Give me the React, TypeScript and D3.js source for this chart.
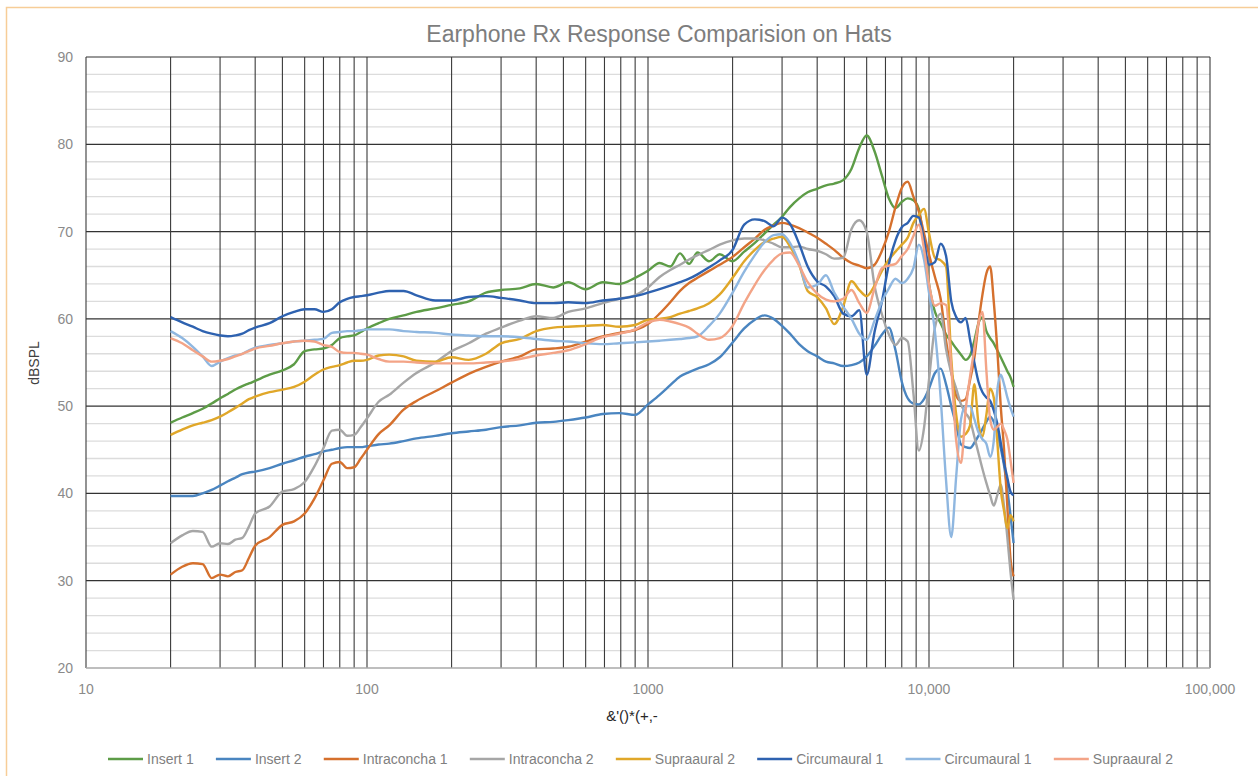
import { useRef, useEffect } from 'react';
import * as d3 from 'd3';

// frequency grid (Hz) shared by every series
const freqs = [
  20, 22, 24, 26, 28, 30, 32, 34, 36, 38,
  40, 45, 50, 55, 60, 65, 70, 75, 80, 85,
  90, 95, 100, 110, 120, 135, 150, 175, 200, 230,
  265, 300, 350, 400, 460, 520, 600, 690, 790, 900,
  1000, 1100, 1200, 1300, 1400, 1500, 1650, 1800, 2000, 2200,
  2400, 2600, 2800, 3000, 3200, 3450, 3700, 4000, 4300, 4600,
  4950, 5300, 5650, 6000, 6400, 6800, 7200, 7600, 8000, 8400,
  8800, 9200, 9600, 10000, 10500, 11000, 11500, 12000, 12500, 13000,
  13500, 14000, 14500, 15000, 15500, 16000, 16500, 17000, 17500, 18000,
  18500, 19000, 19500, 20000,
];

const insert1 = [
  48.1, 48.7, 49.2, 49.7, 50.3, 50.9, 51.4, 51.9, 52.3, 52.6,
  52.9, 53.6, 54.1, 54.8, 56.3, 56.5, 56.6, 57.0, 57.8, 58.0,
  58.1, 58.5, 58.9, 59.5, 60.0, 60.4, 60.8, 61.2, 61.6, 62.0,
  63.0, 63.3, 63.5, 64.0, 63.6, 64.2, 63.4, 64.2, 64.0, 64.7,
  65.5, 66.4, 66.0, 67.5, 66.3, 67.6, 66.6, 67.4, 66.6, 67.7,
  68.7, 69.8, 70.8, 71.7, 72.8, 73.8, 74.5, 74.9, 75.3, 75.5,
  75.9, 77.2, 79.6, 81.0, 79.2, 76.4, 73.8, 72.7, 73.4, 73.8,
  73.6, 72.6, 68.5, 64.0, 60.8, 59.5, 58.2, 57.4, 56.6, 55.9,
  55.3, 55.8, 57.5, 59.5, 60.2, 58.6, 57.8, 57.2, 56.4, 55.6,
  54.8, 54.0, 53.3, 52.2,
];

const insert2 = [
  39.7, 39.7, 39.7, 40.0, 40.4, 40.9, 41.4, 41.8, 42.2, 42.4,
  42.5, 42.9, 43.4, 43.8, 44.2, 44.5, 44.8, 45.0, 45.2, 45.3,
  45.3, 45.3, 45.4, 45.6, 45.7, 46.0, 46.3, 46.6, 46.9, 47.1,
  47.3, 47.6, 47.8, 48.1, 48.2, 48.4, 48.7, 49.1, 49.2, 49.0,
  50.2, 51.3, 52.4, 53.4, 53.9, 54.3, 54.8, 55.6, 57.3, 58.9,
  59.9, 60.4, 60.0, 59.2, 58.3, 57.1, 56.3, 55.7, 55.1, 54.9,
  54.6, 54.7, 55.0, 55.7, 56.9, 58.2, 59.0, 56.4, 52.8, 50.9,
  50.3, 50.2, 50.8, 52.0, 53.8, 54.3, 52.5, 50.0, 47.8, 45.6,
  45.3, 45.2, 45.8, 46.6, 47.4, 48.2, 48.8, 48.2, 47.0, 45.2,
  43.2, 40.5, 37.5, 34.3,
];

const intraconcha1 = [
  30.7, 31.6, 32.0, 31.9, 30.3, 30.7, 30.5, 31.0, 31.2, 32.6,
  34.0, 35.0, 36.4, 36.8, 37.7, 39.4, 41.5, 43.4, 43.6, 42.9,
  43.0, 44.0, 45.0, 46.8, 47.8, 49.6, 50.6, 51.7, 52.7, 53.7,
  54.5, 55.1, 55.7, 56.5, 56.6, 56.8, 57.4, 58.0, 58.4, 58.7,
  59.4, 60.6, 61.9, 63.2, 64.1, 64.7, 65.5, 66.2, 67.1, 68.2,
  69.2, 70.2, 70.7, 71.0, 70.8, 70.4, 69.9, 69.3, 68.6, 67.9,
  67.0, 66.4, 66.1, 65.8, 66.2, 67.8, 70.0, 72.8, 75.0, 75.7,
  74.0, 72.3, 69.8, 67.4, 64.8, 62.3, 57.5, 54.0, 51.2, 50.6,
  50.8, 53.0, 55.5, 59.5, 62.8, 65.2, 66.0, 62.0, 56.5, 50.0,
  45.0, 38.5, 32.5, 30.5,
];

const intraconcha2 = [
  34.3, 35.2, 35.7, 35.6, 33.9, 34.3, 34.2, 34.7, 34.9, 36.2,
  37.7, 38.5, 40.2, 40.5, 41.3, 43.1, 45.2, 47.2, 47.3, 46.6,
  46.7, 47.6, 48.6, 50.5, 51.3, 52.7, 53.8, 55.0, 56.3, 57.2,
  58.3, 59.0, 59.8, 60.3, 60.1, 60.8, 61.2, 61.8, 62.3, 62.7,
  63.6, 64.8, 65.6, 66.2, 66.8, 67.3, 67.9, 68.5, 69.0, 69.2,
  69.2, 69.0, 68.6, 68.2, 68.2, 68.3, 68.0, 67.8, 67.4, 66.9,
  67.0, 70.3, 71.3, 70.0, 63.8, 60.5, 58.2, 57.0, 57.8, 57.4,
  51.5, 44.9, 47.5, 53.0, 59.0, 60.6, 56.5, 53.8, 52.0, 50.2,
  49.2, 48.4, 46.5, 44.6, 42.8, 41.2, 39.8, 38.6, 39.8, 41.0,
  38.5, 35.0, 31.0, 27.8,
];

const supraaural2a = [
  46.7, 47.3, 47.8, 48.1, 48.4, 48.8, 49.3, 49.8, 50.3, 50.8,
  51.1, 51.6, 51.9, 52.2, 52.8, 53.6, 54.2, 54.5, 54.7, 55.0,
  55.2, 55.2, 55.3, 55.8, 55.9, 55.7, 55.2, 55.1, 55.6, 55.3,
  56.0, 57.2, 57.7, 58.6, 59.0, 59.1, 59.2, 59.3, 59.1, 59.3,
  59.9, 60.0, 60.2, 60.6, 60.9, 61.2, 61.8, 62.8, 64.7, 66.6,
  67.9, 68.8, 69.2, 69.4, 68.3, 66.2, 63.2, 62.5, 61.2, 59.4,
  61.4, 64.3, 63.3, 62.6, 63.8, 65.5, 66.8, 67.7, 68.5, 69.3,
  71.0, 71.9, 72.6, 69.8, 67.0, 66.7, 66.0, 55.5, 49.0, 46.5,
  46.8, 47.8, 52.5, 48.0, 46.5, 49.0, 52.0, 51.0, 46.0, 40.5,
  38.0, 36.0, 37.5, 36.8,
];

const circumaural1a = [
  60.2, 59.6, 59.1, 58.6, 58.3, 58.1, 58.0, 58.1, 58.3, 58.7,
  59.0, 59.5, 60.3, 60.8, 61.1, 61.1, 60.8, 61.1, 61.9, 62.3,
  62.5, 62.6, 62.7, 63.0, 63.2, 63.2, 62.7, 62.1, 62.1, 62.5,
  62.6, 62.4, 62.1, 61.8, 61.8, 61.9, 61.8, 62.1, 62.3, 62.6,
  63.0, 63.4, 63.8, 64.2, 64.6, 65.1, 65.9, 66.7, 67.9, 70.8,
  71.4, 71.2, 70.6, 71.6, 70.9, 68.6, 66.0, 64.3, 63.7, 62.6,
  60.6, 60.3, 61.0, 53.6, 58.5, 62.0, 66.3, 69.0, 70.5, 71.0,
  71.8, 71.6, 69.0, 66.2, 66.5, 68.6, 67.2, 62.0, 60.2, 59.6,
  60.1, 57.6, 55.0, 52.8, 51.6, 51.0, 50.6, 49.5, 48.0, 45.8,
  43.5, 41.8, 40.2, 39.8,
];

const circumaural1b = [
  58.6, 57.8, 56.8, 55.7, 54.6, 55.1, 55.5, 55.8, 56.0, 56.4,
  56.7, 57.0, 57.2, 57.4, 57.5, 57.6, 57.7, 58.4, 58.5, 58.6,
  58.6, 58.7, 58.8, 58.8, 58.8, 58.6, 58.5, 58.4, 58.2, 58.1,
  58.0, 58.0, 57.9, 57.7, 57.5, 57.4, 57.2, 57.1, 57.2, 57.3,
  57.4, 57.5, 57.6, 57.7, 57.8, 58.0, 59.2, 60.6, 63.0, 65.4,
  67.3, 68.8, 69.6, 69.7, 68.7, 66.4, 63.6, 63.9, 65.0, 63.0,
  61.4, 60.0, 58.3, 57.6, 59.8, 62.0, 63.5, 64.6, 64.1, 64.6,
  65.8, 68.5, 66.8, 63.0, 58.5, 51.0, 41.5, 35.0, 42.0, 48.5,
  50.0, 50.0, 48.5, 47.0, 46.2, 45.7, 44.2, 46.0, 51.8, 53.6,
  52.5, 51.0, 49.8, 48.8,
];

const supraaural2b = [
  57.8, 57.2, 56.4, 55.7, 55.1, 55.2, 55.4, 55.7, 56.0, 56.3,
  56.6, 56.9, 57.2, 57.4, 57.5, 57.4, 57.0, 56.8, 56.2, 56.1,
  56.1, 56.0, 55.9, 55.4, 55.1, 55.1, 55.0, 54.9, 54.9, 54.9,
  55.0, 55.1, 55.4, 55.8, 56.1, 56.4, 57.1, 57.9, 58.3, 58.8,
  59.6, 59.9, 59.7, 59.4, 59.0, 58.3, 57.6, 57.8, 59.2, 61.8,
  63.9, 65.6, 66.8, 67.5, 67.6, 66.1, 64.2, 62.9, 62.2, 62.0,
  62.3, 63.3, 61.8, 60.7, 63.5, 65.8, 66.1, 66.3, 67.2, 68.0,
  69.5, 70.8, 68.0, 64.0, 61.5, 61.8, 61.6, 54.5, 46.0, 43.5,
  49.5, 53.4, 56.5, 59.5, 60.8, 54.1, 48.5, 47.3, 47.6, 48.0,
  47.3, 46.2, 43.8, 41.2,
];

const seriesNames = [
  'Insert 1', 'Insert 2', 'Intraconcha 1', 'Intraconcha 2',
  'Supraaural 2', 'Circumaural 1', 'Circumaural 1', 'Supraaural 2',
];
const seriesValues = [
  insert1, insert2, intraconcha1, intraconcha2,
  supraaural2a, circumaural1a, circumaural1b, supraaural2b,
];
const seriesColors = [
  '#5d9c47', '#4a85c0', '#d5702d', '#a6a6a6',
  '#e0a729', '#2e62b0', '#8fb7e0', '#f3a487',
];

const yTicks = [20, 30, 40, 50, 60, 70, 80, 90];
const xTicks = [10, 100, 1000, 10000, 100000];
const xTickLabels = ['10', '100', '1000', '10,000', '100,000'];

const FONT = "'Liberation Sans', Arial, sans-serif";

export default function App() {
  const svgRef = useRef<SVGSVGElement>(null);

  useEffect(() => {
    if (!svgRef.current) return;
    const svg = d3.select(svgRef.current);
    svg.selectAll('*').remove();

    const x = d3.scaleLog().domain([10, 100000]).range([86, 1210]);
    const y = d3.scaleLinear().domain([20, 90]).range([668, 57]);

    svg.append('rect')
      .attr('width', 1258).attr('height', 776).attr('fill', '#fff');

    // chart area border
    svg.append('rect')
      .attr('x', 6.5).attr('y', 7.5)
      .attr('width', 1300).attr('height', 900)
      .attr('fill', 'none')
      .attr('stroke', '#f7cd98')
      .attr('stroke-width', 1.5);

    // title
    svg.append('text')
      .attr('x', 659).attr('y', 42)
      .attr('text-anchor', 'middle')
      .attr('font-family', FONT)
      .attr('font-size', 23)
      .attr('fill', '#7d7d7d')
      .text('Earphone Rx Response Comparision on Hats');

    const g = svg.append('g');

    // minor horizontal grid
    const minor = d3.range(22, 90, 2).filter((v) => v % 10 !== 0);
    g.selectAll('.hminor')
      .data(minor)
      .enter()
      .append('line')
      .attr('x1', 86).attr('x2', 1210)
      .attr('y1', (d) => y(d)).attr('y2', (d) => y(d))
      .attr('stroke', '#dcdcdc')
      .attr('stroke-width', 1.3);

    // major horizontal grid
    g.selectAll('.hmajor')
      .data(yTicks.filter((v) => v > 20))
      .enter()
      .append('line')
      .attr('x1', 86).attr('x2', 1210)
      .attr('y1', (d) => y(d)).attr('y2', (d) => y(d))
      .attr('stroke', '#333')
      .attr('stroke-width', 1.2);

    // vertical grid: every 1..9 x decade
    const vlines: number[] = [];
    [10, 100, 1000, 10000].forEach((dec) => {
      for (let k = 1; k <= 9; k++) vlines.push(k * dec);
    });
    vlines.push(100000);
    g.selectAll('.vgrid')
      .data(vlines)
      .enter()
      .append('line')
      .attr('x1', (d) => x(d)).attr('x2', (d) => x(d))
      .attr('y1', 57).attr('y2', 668)
      .attr('stroke', '#3a3a3a')
      .attr('stroke-width', 1.1);

    // bottom axis line
    g.append('line')
      .attr('x1', 86).attr('x2', 1210)
      .attr('y1', 668).attr('y2', 668)
      .attr('stroke', '#a8a8a8')
      .attr('stroke-width', 1.6);

    // y tick labels
    g.selectAll('.ylab')
      .data(yTicks)
      .enter()
      .append('text')
      .attr('x', 73)
      .attr('y', (d) => y(d) + 5)
      .attr('text-anchor', 'end')
      .attr('font-family', FONT)
      .attr('font-size', 14)
      .attr('fill', '#8a8a8a')
      .text((d) => d);

    // x tick labels
    g.selectAll('.xlab')
      .data(xTicks)
      .enter()
      .append('text')
      .attr('x', (d) => x(d))
      .attr('y', 694)
      .attr('text-anchor', 'middle')
      .attr('font-family', FONT)
      .attr('font-size', 14)
      .attr('fill', '#8a8a8a')
      .text((_, i) => xTickLabels[i]);

    // axis titles
    svg.append('text')
      .attr('x', 632).attr('y', 721)
      .attr('text-anchor', 'middle')
      .attr('font-family', FONT)
      .attr('font-size', 15)
      .attr('fill', '#262626')
      .text("&'()*(+,-");

    svg.append('text')
      .attr('transform', 'translate(39,363) rotate(-90)')
      .attr('text-anchor', 'middle')
      .attr('font-family', FONT)
      .attr('font-size', 14)
      .attr('fill', '#404040')
      .text('dBSPL');

    // series
    const line = d3.line<number>()
      .x((_, i) => x(freqs[i]))
      .y((d) => y(d))
      .curve(d3.curveMonotoneX);

    seriesValues.forEach((vals, si) => {
      g.append('path')
        .attr('d', line(vals) ?? '')
        .attr('fill', 'none')
        .attr('stroke', seriesColors[si])
        .attr('stroke-width', 2.4)
        .attr('stroke-linejoin', 'round');
    });

    // legend, laid out from measured text widths between 108 and 1173
    const lg = svg.append('g');
    const texts = seriesNames.map((name) =>
      lg.append('text')
        .attr('y', 764)
        .attr('font-family', FONT)
        .attr('font-size', 14)
        .attr('fill', '#7f7f7f')
        .text(name)
    );
    const widths = texts.map((t) => (t.node() as SVGTextElement).getComputedTextLength());
    const swatch = 35;
    const pad = 4;
    const start = 108;
    const end = 1173;
    const used = widths.reduce((s, w) => s + w + swatch + pad, 0);
    const gap = (end - start - used) / (seriesNames.length - 1);
    let cx = start;
    seriesNames.forEach((_, i) => {
      lg.append('line')
        .attr('x1', cx).attr('x2', cx + swatch)
        .attr('y1', 759).attr('y2', 759)
        .attr('stroke', seriesColors[i])
        .attr('stroke-width', 2.6);
      texts[i].attr('x', cx + swatch + pad);
      cx += swatch + pad + widths[i] + gap;
    });
  }, []);

  return (
    <svg
      ref={svgRef}
      width={1258}
      height={776}
      style={{ position: 'absolute', left: 0, top: 0 }}
    />
  );
}
